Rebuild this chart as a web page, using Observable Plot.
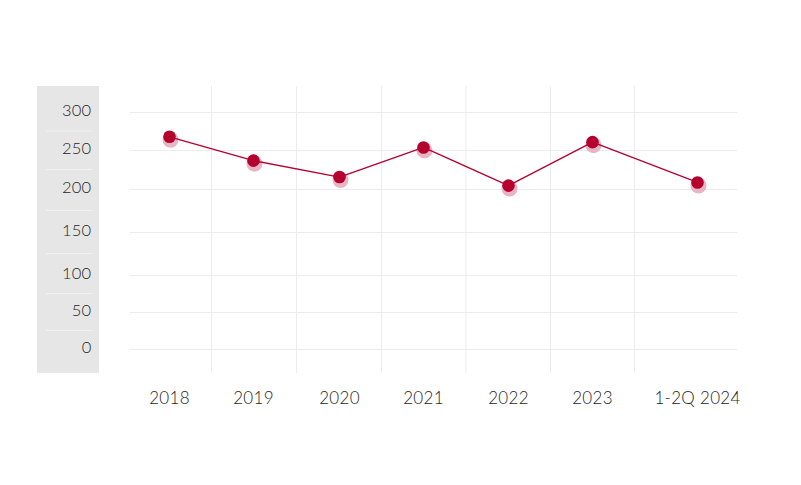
<!DOCTYPE html>
<html>
<head>
<meta charset="utf-8">
<script src="https://cdn.jsdelivr.net/npm/d3@7"></script>
<script src="https://cdn.jsdelivr.net/npm/@observablehq/plot@0.6"></script>
<style>
  html, body { margin: 0; padding: 0; background: #fff; }
  #chart svg { display: block; }
</style>
</head>
<body>
<div id="chart"></div>
<script>
// Data
const categories = ["2018", "2019", "2020", "2021", "2022", "2023", "1-2Q 2024"];
const values = [268, 237, 216, 254, 205, 261, 209];
const yTicks = [0, 50, 100, 150, 200, 250, 300];
// category boundaries (index space) for vertical grid lines
const xBoundaries = [0.5, 1.5, 2.5, 3.5, 4.5, 5.4];
// separators inside the label panel, half-way between ticks
const ySeparators = [25, 75, 125, 175, 225, 275];

const data = categories.map((c, i) => ({i, label: c, value: values[i]}));

const W = 801, H = 485;
const mL = 130, mR = 64, mT = 86, mB = 112;
const red = "#b5002f";

const chart = Plot.plot({
  width: W,
  height: H,
  marginLeft: mL,
  marginRight: mR,
  marginTop: mT,
  marginBottom: mB,
  style: {fontFamily: "Lato, sans-serif", fontWeight: 300, color: "#1e1e1e", background: "transparent", letterSpacing: "0.3px"},
  x: {
    type: "linear",
    domain: d3.range(categories.length),
    range: [169, 253, 339, 423, 508, 592, 697]
  },
  y: {
    type: "linear",
    domain: yTicks,
    range: [349, 312, 275, 232, 189, 150, 112]
  },
  marks: [
    Plot.ruleY(yTicks, {stroke: "#ececec", strokeWidth: 1}),
    Plot.ruleX(xBoundaries, {stroke: "#ececec", strokeWidth: 1}),
    Plot.axisY(yTicks, {
      tickSize: 0, tickPadding: 39, fontSize: 16.5, dy: -2,
      tickFormat: d => String(d), fill: "#1e1e1e", label: null
    }),
    Plot.axisX(d3.range(categories.length), {
      tickSize: 0, tickPadding: 18, fontSize: 17,
      tickFormat: i => categories[i], fill: "#1e1e1e", label: null
    }),
    Plot.dot(data, {x: "i", y: "value", r: 8, dx: 1, dy: 3, fill: "#e8b5c2", stroke: "none"}),
    Plot.line(data, {x: "i", y: "value", stroke: red, strokeWidth: 1.3}),
    Plot.dot(data, {x: "i", y: "value", r: 6.3, fill: red, stroke: "none"})
  ]
});

// grey label panel behind the y axis, positioned from the y scale
const ys = chart.scale("y");
const svg = d3.select(chart);
const g = svg.insert("g", ":first-child");
g.append("rect")
  .attr("x", 37).attr("y", mT)
  .attr("width", 62).attr("height", H - mB - mT)
  .attr("fill", "#e6e6e6");
g.selectAll("line").data(ySeparators).join("line")
  .attr("x1", 46).attr("x2", 92)
  .attr("y1", d => ys.apply(d)).attr("y2", d => ys.apply(d))
  .attr("stroke", "#f1f1f1").attr("stroke-width", 1);

document.getElementById("chart").appendChild(chart);
</script>
</body>
</html>
